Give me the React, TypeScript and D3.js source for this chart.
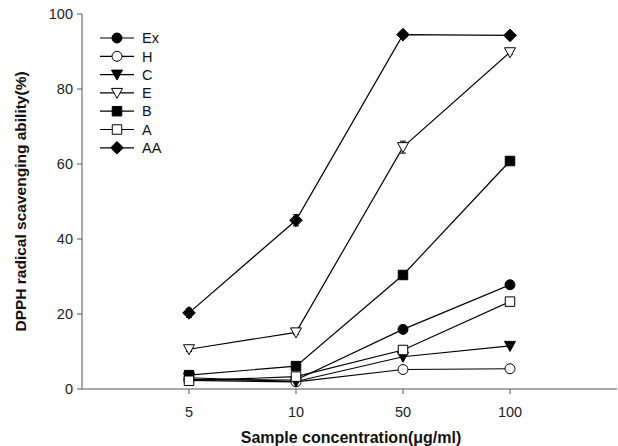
import React from "react";
import * as d3 from "d3";

const width = 618;
const height = 446;
const margin = { top: 14, right: 1, bottom: 57, left: 82 };

const concentrations = ["5", "10", "50", "100"];
const yTicks = [0, 20, 40, 60, 80, 100];

const seriesNames = ["Ex", "H", "C", "E", "B", "A", "AA"];
const exValues = [2.5, 2.4, 15.9, 27.8];
const hValues = [2.3, 1.9, 5.2, 5.4];
const cValues = [3.0, 2.0, 8.6, 11.5];
const eValues = [10.6, 15.1, 64.5, 89.8];
const bValues = [3.7, 6.1, 30.4, 60.8];
const aValues = [2.2, 3.3, 10.4, 23.3];
const aaValues = [20.3, 45.0, 94.5, 94.3];
const aaErrors = [1.2, 1.5, 0.5, 0.4];
const eErrors = [0.6, 0.5, 1.6, 0.5];

type Marker = "circle" | "triangleDown" | "square" | "diamond";

const series = [
  { name: seriesNames[0], values: exValues, marker: "circle" as Marker, filled: true, err: null },
  { name: seriesNames[1], values: hValues, marker: "circle" as Marker, filled: false, err: null },
  { name: seriesNames[2], values: cValues, marker: "triangleDown" as Marker, filled: true, err: null },
  { name: seriesNames[3], values: eValues, marker: "triangleDown" as Marker, filled: false, err: eErrors },
  { name: seriesNames[4], values: bValues, marker: "square" as Marker, filled: true, err: null },
  { name: seriesNames[5], values: aValues, marker: "square" as Marker, filled: false, err: null },
  { name: seriesNames[6], values: aaValues, marker: "diamond" as Marker, filled: true, err: aaErrors },
];

const symbolFor = (m: Marker) => {
  if (m === "circle") return d3.symbol().type(d3.symbolCircle).size(78)();
  if (m === "square") return d3.symbol().type(d3.symbolSquare).size(90)();
  // square rotated 45deg, not d3's tall diamond
  if (m === "diamond") return "M0,-6.3L6.3,0L0,6.3L-6.3,0Z";
  // downward triangle
  return "M-5.5,-4.5L5.5,-4.5L0,5.5Z";
};

export default function App() {
  const x = d3
    .scaleLinear()
    .domain([-1, 4])
    .range([margin.left, width - margin.right]);
  const y = d3
    .scaleLinear()
    .domain([0, 100])
    .range([height - margin.bottom, margin.top]);

  const line = d3
    .line<number>()
    .x((d, i) => x(i))
    .y((d) => y(d));

  const axisColor = "#555";
  const font = "'Liberation Sans', Arial, sans-serif";

  return (
    <svg
      width={width}
      height={height}
      style={{ position: "absolute", left: 0, top: 0, background: "#fff" }}
    >
      {/* y axis */}
      <line x1={margin.left} x2={margin.left} y1={y(100)} y2={y(0)} stroke={axisColor} />
      {yTicks.map((t) => (
        <g key={t}>
          <line x1={margin.left - 5} x2={margin.left} y1={y(t)} y2={y(t)} stroke={axisColor} />
          <text
            x={margin.left - 9}
            y={y(t)}
            dy="0.35em"
            textAnchor="end"
            fontSize={14.5}
            fontFamily={font}
            fill="#222"
          >
            {t}
          </text>
        </g>
      ))}
      {/* x axis */}
      <line x1={margin.left} x2={width - margin.right} y1={y(0)} y2={y(0)} stroke={axisColor} />
      {concentrations.map((c, i) => (
        <g key={c}>
          <line x1={x(i)} x2={x(i)} y1={y(0)} y2={y(0) + 5} stroke={axisColor} />
          <text
            x={x(i)}
            y={y(0) + 28}
            textAnchor="middle"
            fontSize={14.5}
            fontFamily={font}
            fill="#222"
          >
            {c}
          </text>
        </g>
      ))}
      <text
        x={351}
        y={443}
        textAnchor="middle"
        fontSize={16}
        fontWeight="bold"
        fontFamily={font}
        fill="#111"
      >
        Sample concentration(μg/ml)
      </text>
      <text
        transform={`translate(26,${(y(0) + y(100)) / 2}) rotate(-90)`}
        textAnchor="middle"
        fontSize={15.5}
        fontWeight="bold"
        fontFamily={font}
        fill="#111"
      >
        DPPH radical scavenging ability(%)
      </text>

      {/* lines */}
      {series.map((s) => (
        <path key={s.name} d={line(s.values) || ""} fill="none" stroke="#000" strokeWidth={1.2} />
      ))}
      {/* error bars */}
      {series.map((s) =>
        s.err
          ? s.values.map((v, i) => (
              <g key={s.name + i} stroke="#000" strokeWidth={1}>
                <line x1={x(i)} x2={x(i)} y1={y(v - s.err![i])} y2={y(v + s.err![i])} />
                <line x1={x(i) - 3} x2={x(i) + 3} y1={y(v + s.err![i])} y2={y(v + s.err![i])} />
                <line x1={x(i) - 3} x2={x(i) + 3} y1={y(v - s.err![i])} y2={y(v - s.err![i])} />
              </g>
            ))
          : null
      )}
      {/* markers */}
      {series.map((s) =>
        s.values.map((v, i) => (
          <path
            key={s.name + "m" + i}
            d={symbolFor(s.marker) || ""}
            transform={`translate(${x(i)},${y(v)})`}
            fill={s.filled ? "#000" : "#fff"}
            stroke="#000"
            strokeWidth={1}
          />
        ))
      )}

      {/* legend */}
      {series.map((s, k) => {
        const ly = 38 + k * 18.3;
        return (
          <g key={"lg" + s.name}>
            <line x1={100} x2={134} y1={ly} y2={ly} stroke="#000" strokeWidth={1.2} />
            <path
              d={symbolFor(s.marker) || ""}
              transform={`translate(117,${ly})`}
              fill={s.filled ? "#000" : "#fff"}
              stroke="#000"
            />
            <text x={142} y={ly} dy="0.36em" fontSize={14.5} fontFamily={font} fill="#111">
              {s.name}
            </text>
          </g>
        );
      })}
    </svg>
  );
}
